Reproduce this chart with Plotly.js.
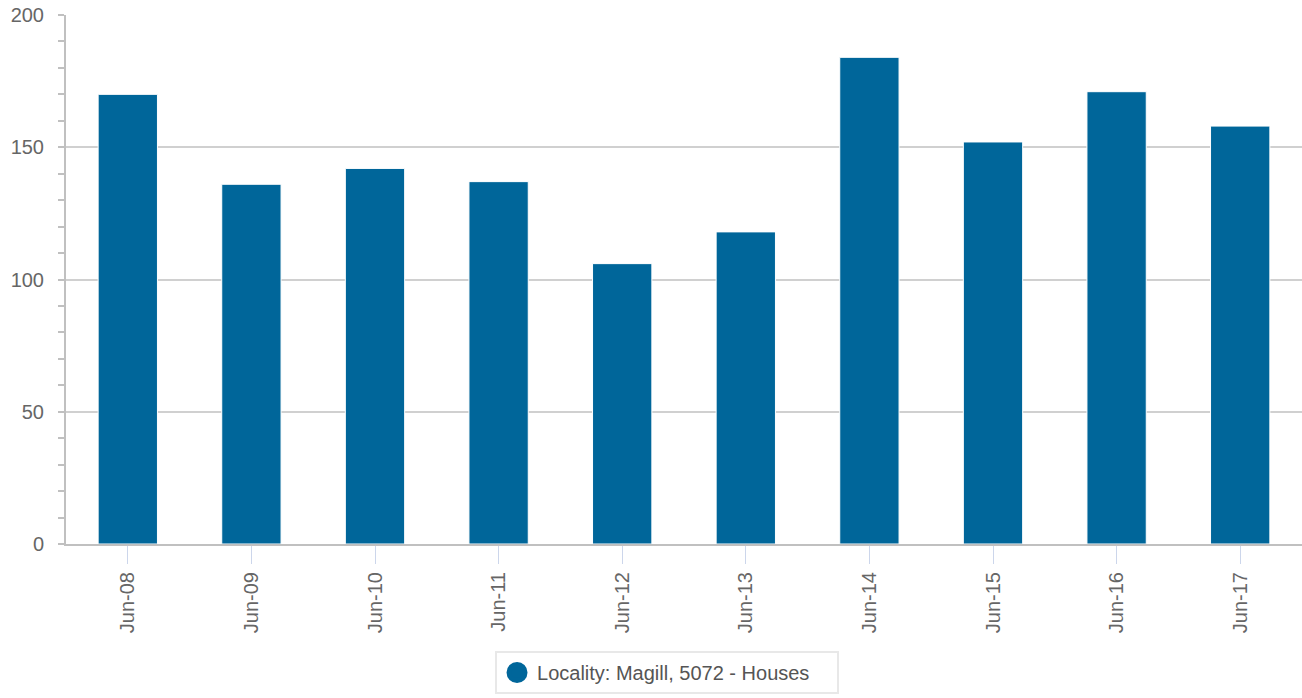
<!DOCTYPE html>
<html>
<head>
<meta charset="utf-8">
<script src="https://cdn.plot.ly/plotly-3.0.1.min.js"></script>
<style>html,body{margin:0;padding:0;background:#fff;}#chart{width:1302px;height:698px;}</style>
</head>
<body>
<div id="chart"></div>
<script>
const categories = ["Jun-08","Jun-09","Jun-10","Jun-11","Jun-12","Jun-13","Jun-14","Jun-15","Jun-16","Jun-17"];
const values = [170, 136, 142, 137, 106, 118, 184, 152, 171, 158];
const seriesName = "Locality: Magill, 5072 - Houses";
const yTicks = [0, 50, 100, 150, 200];

const barColor = "#00669a";

const traces = [
  {
    type: "bar",
    x: categories,
    y: values,
    name: seriesName,
    showlegend: false,
    marker: {color: barColor, line: {color: "#ffffff", width: 1}},
    hoverinfo: "x+y"
  },
  {
    type: "scatter",
    mode: "markers",
    x: [null],
    y: [null],
    name: seriesName,
    showlegend: true,
    marker: {color: barColor, size: 16, symbol: "circle", line: {color: barColor, width: 5}},
    hoverinfo: "skip"
  }
];

const layout = {
  width: 1302,
  height: 698,
  margin: {l: 66, r: 0, t: 15, b: 154, pad: 0},
  paper_bgcolor: "#ffffff",
  plot_bgcolor: "#ffffff",
  font: {family: "Liberation Sans, Arial, sans-serif", color: "#666666", size: 20},
  bargap: 0.52,
  showlegend: true,
  xaxis: {
    type: "category",
    tickangle: -90,
    ticks: "outside",
    ticklen: 18,
    tickcolor: "#ccd6eb",
    tickwidth: 1,
    showline: true,
    linecolor: "#c0c0c0",
    linewidth: 2,
    showgrid: false,
    tickfont: {size: 20, color: "#666666"},
    fixedrange: true
  },
  yaxis: {
    range: [0, 200],
    tickvals: yTicks,
    ticktext: yTicks.map(String),
    ticks: "outside",
    ticklen: 6,
    tickcolor: "#c0c0c0",
    tickwidth: 2,
    showline: true,
    linecolor: "#c0c0c0",
    linewidth: 2,
    showgrid: true,
    gridcolor: "#d0d0d0",
    gridwidth: 2,
    zeroline: false,
    tickfont: {size: 20, color: "#666666"},
    ticklabelstandoff: 10,
    minor: {dtick: 10, ticks: "outside", ticklen: 6, tickcolor: "#c0c0c0", tickwidth: 2, showgrid: false},
    fixedrange: true
  },
  legend: {
    orientation: "h",
    xref: "container",
    yref: "container",
    x: 0.3802,
    xanchor: "left",
    y: 0.0673,
    yanchor: "top",
    bordercolor: "#e8e8e8",
    borderwidth: 2,
    bgcolor: "#ffffff",
    font: {size: 20, color: "#555555"},
    itemsizing: "trace",
    entrywidth: 295
  }
};

Plotly.newPlot("chart", traces, layout, {displayModeBar: false, responsive: false});
</script>
</body>
</html>
